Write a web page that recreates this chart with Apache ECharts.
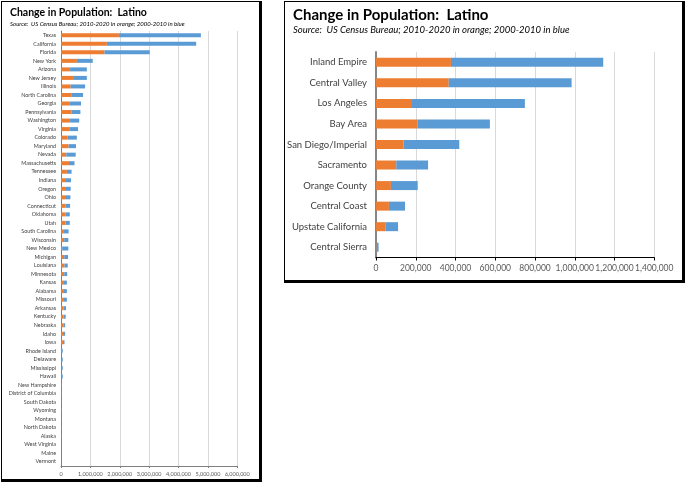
<!DOCTYPE html>
<html>
<head>
<meta charset="utf-8">
<script src="https://cdn.jsdelivr.net/npm/echarts@6/dist/echarts.min.js"></script>
<style>
html,body{margin:0;padding:0;background:#fff;}
#wrap{position:relative;width:686px;height:483px;}
#chart{position:absolute;left:0;top:0;width:686px;height:483px;}
.panel{position:absolute;box-sizing:border-box;border-style:solid;border-color:#000;pointer-events:none;}
</style>
</head>
<body>
<div id="wrap">
<div id="chart"></div>
<div class="panel" style="left:1px;top:1px;width:261px;height:481px;border-width:1px 3px 3px 1px;"></div>
<div class="panel" style="left:284px;top:1px;width:401px;height:282px;border-width:1px 3px 3px 1px;"></div>
</div>
<script>
// Left chart: states (values in persons)
const states = ["Texas","California","Florida","New York","Arizona","New Jersey","Illinois","North Carolina","Georgia","Pennsylvania","Washington","Virginia","Colorado","Maryland","Nevada","Massachusetts","Tennessee","Indiana","Oregon","Ohio","Connecticut","Oklahoma","Utah","South Carolina","Wisconsin","New Mexico","Michigan","Louisiana","Minnesota","Kansas","Alabama","Missouri","Arkansas","Kentucky","Nebraska","Idaho","Iowa","Rhode Island","Delaware","Mississippi","Hawaii","New Hampshire","District of Columbia","South Dakota","Wyoming","Montana","North Dakota","Alaska","West Virginia","Maine","Vermont"];
const statesOrange = [1970000,1560000,1480000,540000,310000,440000,330000,350000,280000,360000,310000,280000,230000,260000,180000,270000,200000,170000,140000,170000,150000,150000,150000,100000,110000,40000,110000,120000,110000,100000,100000,100000,90000,90000,80000,70000,70000,30000,10000,10000,10000,5000,5000,5000,5000,5000,5000,5000,4000,4000,3000];
const statesBlue = [2790000,3040000,1540000,540000,570000,440000,490000,400000,400000,300000,310000,300000,310000,250000,320000,190000,160000,170000,190000,150000,160000,150000,150000,160000,140000,210000,130000,110000,100000,100000,100000,100000,80000,70000,60000,70000,50000,30000,50000,50000,50000,25000,20000,15000,25000,15000,15000,15000,10000,10000,8000];
const leftTicks = [0,1000000,2000000,3000000,4000000,5000000,6000000];

// Right chart: California regions
const regions = ["Inland Empire","Central Valley","Los Angeles","Bay Area","San Diego/Imperial","Sacramento","Orange County","Central Coast","Upstate California","Central Sierra"];
const regionsOrange = [377000,366000,181000,210000,139000,102000,75000,65000,49000,3000];
const regionsBlue = [766000,618000,568000,363000,280000,160000,135000,81000,62000,10000];
const rightTicks = [0,200000,400000,600000,800000,1000000,1200000,1400000];

const fmt = v => v.toLocaleString('en-US');
const ORANGE = '#ED7D31', BLUE = '#5B9BD5';
const FONT = 'Lato, "Open Sans", sans-serif';

const chart = echarts.init(document.getElementById('chart'), null, {renderer:'canvas'});
chart.setOption({
  animation:false,
  title:[
    {text:'Change in Population:  Latino', left:5, top:2, textStyle:{fontFamily:FONT,fontWeight:'bold',fontSize:10.5,color:'#000'}},
    {text:'Source:  US Census Bureau; 2010-2020 in orange; 2000-2010 in blue', left:5, top:16, textStyle:{fontFamily:FONT,fontStyle:'italic',fontWeight:'normal',fontSize:6,color:'#000'}},
    {text:'Change in Population:  Latino', left:288, top:3, textStyle:{fontFamily:FONT,fontWeight:'bold',fontSize:15,color:'#000'}},
    {text:'Source:  US Census Bureau; 2010-2020 in orange; 2000-2010 in blue', left:288, top:20, textStyle:{fontFamily:FONT,fontStyle:'italic',fontWeight:'normal',fontSize:9.5,color:'#000'}}
  ],
  grid:[
    {left:61, top:31, width:176.3, height:435, containLabel:false},
    {left:376, top:52, width:278.3, height:205.5, containLabel:false}
  ],
  xAxis:[
    {gridIndex:0, type:'value', min:0, max:6000000, interval:1000000,
     axisLine:{show:true,lineStyle:{color:'#7f7f7f',width:1}},
     axisTick:{show:true,inside:false,length:2,lineStyle:{color:'#7f7f7f'}},
     splitLine:{show:true,lineStyle:{color:'#d9d9d9',width:1}},
     axisLabel:{fontFamily:FONT,fontSize:5.5,color:'#595959',margin:5,formatter:v=>fmt(v)}},
    {gridIndex:1, type:'value', min:0, max:1400000, interval:200000,
     axisLine:{show:true,lineStyle:{color:'#000',width:1}},
     axisTick:{show:true,inside:false,length:3,lineStyle:{color:'#000'}},
     splitLine:{show:true,lineStyle:{color:'#d9d9d9',width:1}},
     axisLabel:{fontFamily:FONT,fontSize:8.5,color:'#595959',margin:6,formatter:v=>fmt(v)}}
  ],
  yAxis:[
    {gridIndex:0, type:'category', data:states, inverse:true,
     axisLine:{show:true,lineStyle:{color:'#7f7f7f',width:1}},
     axisTick:{show:false},
     axisLabel:{fontFamily:FONT,fontSize:5.4,color:'#404040',margin:5,interval:0}},
    {gridIndex:1, type:'category', data:regions, inverse:true,
     axisLine:{show:true,lineStyle:{color:'#868686',width:2}},
     axisTick:{show:false},
     axisLabel:{fontFamily:FONT,fontSize:9.5,color:'#404040',margin:9,interval:0}}
  ],
  series:[
    {type:'bar', xAxisIndex:0, yAxisIndex:0, stack:'l', data:statesOrange, barWidth:4, itemStyle:{color:ORANGE}},
    {type:'bar', xAxisIndex:0, yAxisIndex:0, stack:'l', data:statesBlue, barWidth:4, itemStyle:{color:BLUE}},
    {type:'bar', xAxisIndex:1, yAxisIndex:1, stack:'r', data:regionsOrange, barWidth:9, itemStyle:{color:ORANGE}},
    {type:'bar', xAxisIndex:1, yAxisIndex:1, stack:'r', data:regionsBlue, barWidth:9, itemStyle:{color:BLUE}}
  ]
});
</script>
</body>
</html>
